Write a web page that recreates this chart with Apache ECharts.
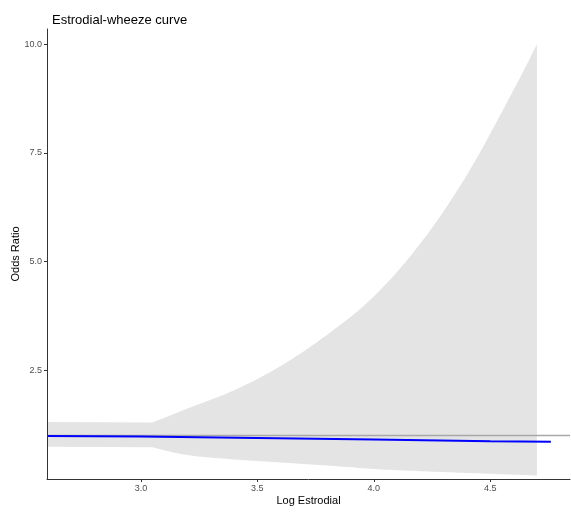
<!DOCTYPE html>
<html>
<head>
<meta charset="utf-8">
<script src="https://cdn.jsdelivr.net/npm/echarts@6/dist/echarts.min.js"></script>
<style>html,body{margin:0;padding:0;background:#fff}#c{width:571px;height:513px}</style>
</head>
<body>
<div id="c"></div>
<script>
// Confidence band (x = log estrodial)
const bandX     = [2.597, 3.05, 3.2, 3.4, 3.6, 3.8, 4.0, 4.2, 4.4, 4.6, 4.7];
const bandUpper = [1.31, 1.30, 1.62, 2.04, 2.60, 3.32, 4.20, 5.42, 7.00, 8.95, 10.0];
const bandLower = [0.74, 0.73, 0.55, 0.45, 0.38, 0.31, 0.23, 0.18, 0.14, 0.10, 0.08];
// Fitted odds ratio curve
const fitX  = [2.597, 3.0, 3.5, 4.0, 4.5, 4.76];
const fitY  = [0.99, 0.975, 0.945, 0.91, 0.87, 0.855];
// Reference line
const refOR = 1;
// Ticks
const xTicks = [3.0, 3.5, 4.0, 4.5];
const yTicks = [2.5, 5.0, 7.5, 10.0];

const xMin = 2.597, xMax = 4.842, yMin = 0, yMax = 10.35;

// smooth pixel path through points (Catmull-Rom), starting with a corner at index `from`
function smoothPts(p, from) {
  const out = [];
  for (let i = 0; i < from; i++) out.push(p[i]);
  for (let i = from; i < p.length - 1; i++) {
    const p0 = p[Math.max(i - 1, from)], p1 = p[i], p2 = p[i + 1], p3 = p[Math.min(i + 2, p.length - 1)];
    const c1 = [p1[0] + (p2[0] - p0[0]) / 6, p1[1] + (p2[1] - p0[1]) / 6];
    const c2 = [p2[0] - (p3[0] - p1[0]) / 6, p2[1] - (p3[1] - p1[1]) / 6];
    for (let k = 0; k < 12; k++) {
      const t = k / 12, u = 1 - t;
      out.push([
        u*u*u*p1[0] + 3*u*u*t*c1[0] + 3*u*t*t*c2[0] + t*t*t*p2[0],
        u*u*u*p1[1] + 3*u*u*t*c1[1] + 3*u*t*t*c2[1] + t*t*t*p2[1]
      ]);
    }
  }
  out.push(p[p.length - 1]);
  return out;
}

const chart = echarts.init(document.getElementById('c'));
const font = 'Liberation Sans, Arial, sans-serif';
chart.setOption({
  animation: false,
  title: {
    text: 'Estrodial-wheeze curve', left: 47, top: 9,
    textStyle: {fontFamily: font, fontSize: 13, fontWeight: 'normal', color: '#000'}
  },
  grid: {left: 47, right: 1, top: 29, bottom: 34, containLabel: false, outerBoundsMode: 'none'},
  xAxis: {
    type: 'value', min: xMin, max: xMax, z: 5,
    name: 'Log Estrodial', nameLocation: 'middle', nameGap: 16, nameMoveOverlap: false,
    nameTextStyle: {fontFamily: font, fontSize: 11, color: '#000'},
    axisLine: {show: true, lineStyle: {color: '#333', width: 1}},
    axisTick: {show: true, length: 3, customValues: xTicks, lineStyle: {color: '#333'}},
    axisLabel: {customValues: xTicks, fontFamily: font, fontSize: 9, color: '#4d4d4d', margin: 5,
      formatter: v => v.toFixed(1)},
    splitLine: {show: false}
  },
  yAxis: {
    type: 'value', min: yMin, max: yMax, z: 5,
    name: 'Odds Ratio', nameLocation: 'middle', nameGap: 26, nameRotate: 90, nameMoveOverlap: false,
    nameTextStyle: {fontFamily: font, fontSize: 11, color: '#000'},
    axisLine: {show: true, lineStyle: {color: '#333', width: 1}},
    axisTick: {show: true, length: 3, customValues: yTicks, lineStyle: {color: '#333'}},
    axisLabel: {customValues: yTicks, fontFamily: font, fontSize: 9, color: '#4d4d4d', margin: 5,
      formatter: v => v.toFixed(1)},
    splitLine: {show: false}
  },
  series: [
    {
      type: 'custom', silent: true, z: 1,
      data: [[bandX[0], bandLower[0]]],
      renderItem: function (params, api) {
        const up = bandX.map((x, i) => api.coord([x, bandUpper[i]]));
        const lo = bandX.map((x, i) => api.coord([x, bandLower[i]]));
        const pts = smoothPts(up, 1).concat(smoothPts(lo, 1).reverse());
        return {type: 'polygon', shape: {points: pts}, style: {fill: '#e4e4e4'}};
      }
    },
    {
      type: 'line', symbol: 'none', silent: true, z: 2,
      data: [[xMin, refOR], [xMax, refOR]],
      lineStyle: {color: '#a8a8a8', width: 1.5}
    },
    {
      type: 'line', symbol: 'none', silent: true, z: 3,
      data: fitX.map((x, i) => [x, fitY[i]]),
      lineStyle: {color: '#0000ff', width: 2}
    }
  ]
});
</script>
</body>
</html>
